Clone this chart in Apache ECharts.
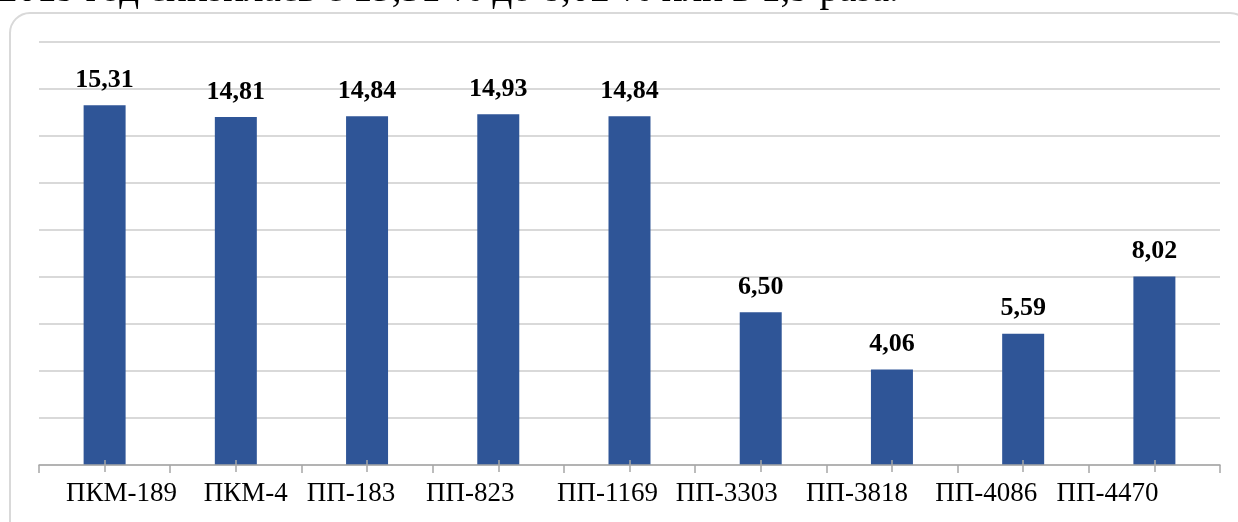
<!DOCTYPE html>
<html>
<head>
<meta charset="utf-8">
<script src="https://cdn.jsdelivr.net/npm/echarts@6/dist/echarts.min.js"></script>
<style>
html,body{margin:0;padding:0;background:#fff;}
#c{width:1238px;height:522px;}
</style>
</head>
<body>
<div id="c"></div>
<script>
const categories = ['ПКМ-189','ПКМ-4','ПП-183','ПП-823','ПП-1169','ПП-3303','ПП-3818','ПП-4086','ПП-4470'];
const values = [15.31, 14.81, 14.84, 14.93, 14.84, 6.50, 4.06, 5.59, 8.02];
const headText = '2019 год снизилась с 15,31 % до 8,02 % или в 1,9 раза.';
const yMin = 0, yMax = 18, yStep = 2;

// horizontal nudges of the category labels (style only), as in the source layout
const labelNudge = [17, 10, -16, -28, -22, -34, -35, -37, -47];

const chart = echarts.init(document.getElementById('c'), null, {renderer:'canvas'});
const serif = '"Liberation Serif","Times New Roman",serif';
const axisData = categories.map((c, i) => {
  const d = labelNudge[i];
  return {value:c, textStyle:{padding: d >= 0 ? [0,0,0,2*d] : [0,-2*d,0,0]}};
});
const hiddenAxis = (tickLen, inside) => ({
  type:'category', data:categories, position:'bottom', z:10,
  axisLine:{show:false}, axisLabel:{show:false}, splitLine:{show:false},
  axisTick:{show:true, alignWithLabel:true, inside:inside, length:tickLen, lineStyle:{color:'#a6a6a6', width:1.5}}
});
chart.setOption({
  animation:false,
  backgroundColor:'#fff',
  graphic:[
    {type:'rect', shape:{x:10, y:13, width:1240, height:540, r:20}, style:{fill:'none', stroke:'#d9d9d9', lineWidth:2}, z:-1},
    {type:'text', left:-2, top:-29, style:{text:headText, font:'39px ' + serif, fill:'#000'}}
  ],
  grid:{left:39, right:18, top:42, bottom:57},
  xAxis:[
    {type:'category', data:axisData, z:10,
     axisLine:{show:true, lineStyle:{color:'#a6a6a6', width:1.5}},
     axisTick:{show:true, alignWithLabel:false, length:8, lineStyle:{color:'#a6a6a6', width:1.5}},
     axisLabel:{color:'#000', fontFamily:serif, fontSize:27, margin:15, interval:0}},
    hiddenAxis(5, true),
    hiddenAxis(7, false)
  ],
  yAxis:{type:'value', min:yMin, max:yMax, interval:yStep,
    axisLine:{show:false}, axisTick:{show:false}, axisLabel:{show:false},
    splitLine:{lineStyle:{color:'#d9d9d9', width:2}}},
  series:[{
    type:'bar', data:values, barWidth:'32%', xAxisIndex:0,
    itemStyle:{color:'#2f5597'},
    label:{show:true, position:'top', distance:12, color:'#000', fontFamily:serif, fontWeight:'bold', fontSize:26,
      formatter:p=>p.value.toFixed(2).replace('.', ',')}
  }]
});
</script>
</body>
</html>
